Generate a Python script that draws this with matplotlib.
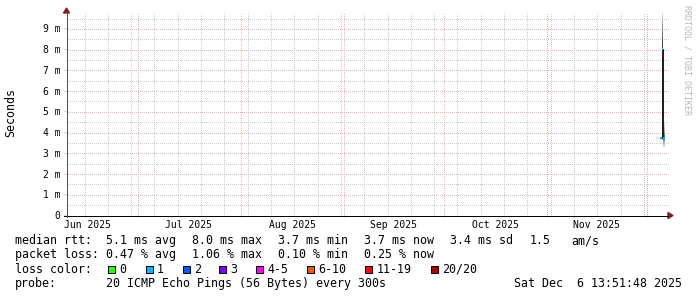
import numpy as np
import pandas as pd
import matplotlib
matplotlib.use("Agg")
import matplotlib.pyplot as plt
import matplotlib.dates as mdates
from matplotlib.lines import Line2D
from matplotlib.patches import Polygon, Rectangle
from matplotlib.transforms import IdentityTransform

W, H = 697, 297

# graph window: last 180 days up to the render time
end_time = pd.Timestamp("2025-12-06 13:51:48")
start_time = end_time - pd.Timedelta(days=180)

# 12 h consolidated bins (host only has data for the last day and a half)
bin_start = pd.to_datetime(["2025-12-05 00:00", "2025-12-05 12:00", "2025-12-06 00:00"])
bin_end = pd.to_datetime(["2025-12-05 12:00", "2025-12-06 00:00", "2025-12-06 12:00"])
median_ms = [3.7, 8.0, 3.7]
loss_pct = [0.10, 1.06, 0.25]

# sorted ping times per bin (20 pings), ms
pings_a = [3.62, 3.64, 3.65, 3.66, 3.67, 3.68, 3.68, 3.69, 3.69, 3.70,
           3.70, 3.71, 3.71, 3.72, 3.72, 3.73, 3.74, 3.75, 3.76, 3.78]
pings_b = [3.60, 3.90, 4.50, 5.20, 5.90, 6.50, 7.00, 7.40, 7.70, 7.90,
           8.10, 8.40, 8.60, 8.80, 9.00, 9.20, 9.35, 9.50, 9.60, 9.73]
pings_c = [3.28, 3.35, 3.42, 3.50, 3.55, 3.60, 3.63, 3.66, 3.68, 3.70,
           3.72, 3.75, 3.80, 3.85, 3.90, 4.00, 4.10, 4.20, 4.30, 4.42]
pings = [pings_a, pings_b, pings_c]

loss_labels = ["0", "1", "2", "3", "4-5", "6-10", "11-19", "20/20"]
loss_colors = ["#26ff00", "#00b8ff", "#0059ff", "#7e00ff", "#ff00ff", "#ff5500", "#ff0000", "#a10000"]
loss_upper = [0, 1, 2, 3, 5, 10, 19, 20]

stats_rtt = ["median rtt:", "5.1 ms avg", "8.0 ms max", "3.7 ms min", "3.7 ms now", "3.4 ms sd", "1.5", "am/s"]
stats_loss = ["packet loss:", "0.47 % avg", "1.06 % max", "0.10 % min", "0.25 % now"]
probe_text = "20 ICMP Echo Pings (56 Bytes) every 300s"
date_text = "Sat Dec  6 13:51:48 2025"

MONO = "DejaVu Sans Mono"
LEG = 8.4
AX = 7.05
GRID = "#cbcbcb"
MGRID = "#f0b0b0"
ARROW = "#801f1f"


def fp(x, y):
    return x / W, 1 - y / H


def loss_color(pct):
    n = pct / 100 * 20
    for up, c in zip(loss_upper, loss_colors):
        if n <= up:
            return c
    return loss_colors[-1]


fig = plt.figure(figsize=(W / 100, H / 100), dpi=100)
fig.patch.set_facecolor("white")
x0, x1, y0, y1 = 66, 665.3, 215, 13.3
ax = fig.add_axes([x0 / W, 1 - y0 / H, (x1 - x0) / W, (y0 - y1) / H])
ax.set_xlim(start_time, end_time)
ax.set_ylim(0, 9.73)
ax.patch.set_visible(False)
for s in ax.spines.values():
    s.set_visible(False)

# dotted rrdtool-style grid: one pixel on, one off, at the axis positions
sundays = pd.date_range(start_time.ceil("D"), end_time, freq="W-SUN")
months = pd.date_range(start_time.ceil("D"), end_time, freq="MS")
top, bot, left, right = 13, 215, 67, 668


def dots(xs, ys, col):
    fig.add_artist(Line2D(xs, ys, ls="none", marker="s", markersize=0.72, mew=0,
                          color=col, transform=IdentityTransform(), zorder=-1))


def vline(d, col):
    c = int(ax.transData.transform((mdates.date2num(d), 0))[0])
    rows = np.arange(top, bot, 2)
    dots(np.full(len(rows), c + 0.5), H - rows - 0.5, col)


def hline(v, col):
    r = int(H - ax.transData.transform((0, v))[1])
    cols = np.arange(left, right, 2)
    dots(cols + 0.5, np.full(len(cols), H - r - 0.5), col)


for d in sundays:
    vline(d, GRID)
for v in [i + 0.5 for i in range(10)]:
    hline(v, GRID)
for d in months:
    vline(d, MGRID)
for v in range(1, 10):
    hline(v, MGRID)

# smoke
for b0, b1, p in zip(bin_start, bin_end, pings):
    for i in range(10):
        g = (190 / 10 * (10 - i - 1) + 50) / 255
        ax.fill_between([b0, b1], p[i], p[19 - i], color=(g, g, g), lw=0, zorder=3)

# median line + loss colour
lw = 0.72
edges = list(bin_start) + [bin_end[-1]]
ax.stairs(median_ms, edges, baseline=None, color="#202020", lw=lw, zorder=4)
for b0, b1, m, l in zip(bin_start, bin_end, median_ms, loss_pct):
    ax.hlines(m, b0, b1, colors=loss_color(l), lw=1.6, zorder=5)

# ticks and labels
ax.set_yticks(range(10))
ax.set_yticklabels(["0"] + ["%d m" % i for i in range(1, 10)], family=MONO, fontsize=AX)
ax.tick_params(axis="y", length=1.5, width=lw, color=MGRID, pad=2.6)
ax.set_xticks(months)
ax.set_xticklabels([])
ax.tick_params(axis="x", which="major", length=1.5, width=lw, color=MGRID)
mids = [m + (m + pd.offsets.MonthBegin(1) - m) / 2 for m in pd.date_range("2025-06-01", "2025-11-01", freq="MS")]
ax.set_xticks(mids, minor=True)
ax.set_xticklabels([m.strftime("%b %Y") for m in mids], minor=True, family=MONO, fontsize=AX)
ax.tick_params(axis="x", which="minor", length=0, pad=3.4)

# axes with arrows
fig.add_artist(Line2D(*zip(fp(64, 215.5), fp(668, 215.5)), color="black", lw=lw, transform=fig.transFigure))
fig.add_artist(Line2D(*zip(fp(66.5, 217), fp(66.5, 12)), color="#505050", lw=lw, transform=fig.transFigure))
fig.add_artist(Polygon([fp(673, 215.5), fp(668, 212.5), fp(668, 218.5)], closed=True, color=ARROW, transform=fig.transFigure))
fig.add_artist(Polygon([fp(66.5, 8), fp(63.5, 13), fp(69.5, 13)], closed=True, color=ARROW, transform=fig.transFigure))

fig.text(*fp(11, 113), "Seconds", family=MONO, fontsize=LEG, rotation=90, ha="center", va="center")
fig.text(*fp(687.5, 5), "RRDTOOL / TOBI OETIKER", family=MONO, fontsize=6.0, rotation=-90,
         ha="center", va="top", color="#b8b8b8")

# legend
rtt_x = [15, 106, 192.3, 278, 364, 450, 529.7, 571.3]
for x, t in zip(rtt_x, stats_rtt):
    fig.text(*fp(x, 244.3), t, family=MONO, fontsize=LEG, va="baseline")
for x, t in zip(rtt_x, stats_loss):
    fig.text(*fp(x, 258.3), t, family=MONO, fontsize=LEG, va="baseline")
fig.text(*fp(15, 272.7), "loss color:", family=MONO, fontsize=LEG, va="baseline")
box_x = [108.3, 145.7, 182.7, 219.3, 255.7, 307.3, 365, 430.7]
for bx, c, lab in zip(box_x, loss_colors, loss_labels):
    fig.add_artist(Rectangle(fp(bx, 272.7), 7 / W, 7 / H, facecolor=c, edgecolor="black", lw=lw,
                             transform=fig.transFigure))
    fig.text(*fp(bx + 11.4, 272.7), lab, family=MONO, fontsize=LEG, va="baseline")
fig.text(*fp(15, 287), "probe:", family=MONO, fontsize=LEG, va="baseline")
fig.text(*fp(106, 287), probe_text, family=MONO, fontsize=LEG, va="baseline")
fig.text(*fp(681.5, 287), date_text, family=MONO, fontsize=LEG, va="baseline", ha="right")

fig.savefig("out.png", dpi=100, facecolor="white")
